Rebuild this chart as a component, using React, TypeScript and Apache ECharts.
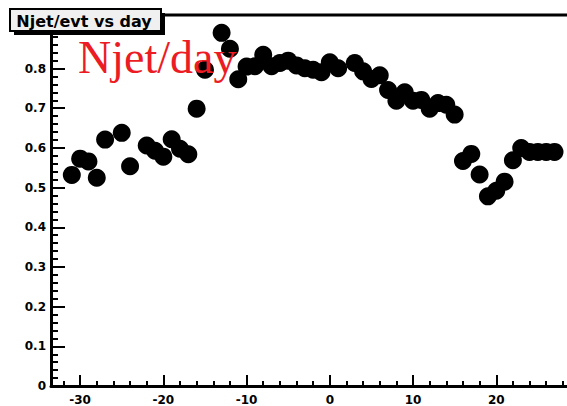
import React, { useEffect, useRef } from "react";
import * as echarts from "echarts";

const days = [
  -31, -30, -29, -28, -27, -25, -24, -22, -21, -20, -19, -18, -17, -16, -15,
  -13, -12, -11, -10, -9, -8, -7, -6, -5, -4, -3, -2, -1, 0, 1, 3, 4, 5, 6, 7,
  8, 9, 10, 11, 12, 13, 14, 15, 16, 17, 18, 19, 20, 21, 22, 23, 24, 25, 26, 27,
];
const njetPerEvt = [
  0.532, 0.573, 0.566, 0.525, 0.621, 0.638, 0.554, 0.606, 0.593, 0.578, 0.622,
  0.598, 0.584, 0.699, 0.797, 0.89, 0.85, 0.773, 0.805, 0.806, 0.835, 0.806,
  0.814, 0.82, 0.808, 0.801, 0.797, 0.791, 0.816, 0.801, 0.814, 0.793, 0.774,
  0.783, 0.746, 0.719, 0.74, 0.719, 0.721, 0.699, 0.713, 0.709, 0.684, 0.567,
  0.585, 0.533, 0.478, 0.492, 0.515, 0.569, 0.6, 0.59, 0.59, 0.59, 0.59,
];

const xMajorTicks = [-30, -20, -10, 0, 10, 20];
const xMinorTicks = [
  -32, -28, -26, -24, -22, -18, -16, -14, -12, -8, -6, -4, -2, 2, 4, 6, 8, 12,
  14, 16, 18, 22, 24, 26, 28,
];
const yMajorTicks = [0, 0.1, 0.2, 0.3, 0.4, 0.5, 0.6, 0.7, 0.8, 0.9];
// the 0.9 label sits under the title box in the reference, so only these are labelled
const yTickLabels = [0, 0.1, 0.2, 0.3, 0.4, 0.5, 0.6, 0.7, 0.8];
const yMinorTicks = [
  0.02, 0.04, 0.06, 0.08, 0.12, 0.14, 0.16, 0.18, 0.22, 0.24, 0.26, 0.28, 0.32,
  0.34, 0.36, 0.38, 0.42, 0.44, 0.46, 0.48, 0.52, 0.54, 0.56, 0.58, 0.62, 0.64,
  0.66, 0.68, 0.72, 0.74, 0.76, 0.78, 0.82, 0.84, 0.86, 0.88, 0.92,
];

const X_MIN = -33.5;
const X_MAX = 28.5;
const Y_MIN = 0;
const Y_MAX = 0.935;

const titleText = "Njet/evt vs day";
const overlayText = "Njet/day";

export default function App() {
  const ref = useRef<HTMLDivElement>(null);

  useEffect(() => {
    if (!ref.current) return;
    const chart = echarts.init(ref.current, null, { renderer: "svg" });
    const labelFont = {
      fontFamily: "DejaVu Sans",
      fontWeight: "bold" as const,
      fontSize: 12,
      color: "#000",
    };
    const grid = { left: 51, right: 0, top: 15, bottom: 13 };
    chart.setOption({
      animation: false,
      grid,
      xAxis: [
        {
          type: "value",
          min: X_MIN,
          max: X_MAX,
          position: "bottom",
          splitLine: { show: false },
          axisLine: { show: true, onZero: false, lineStyle: { color: "#000", width: 3 } },
          axisTick: {
            show: true,
            inside: true,
            length: 11,
            customValues: xMajorTicks,
            lineStyle: { color: "#000", width: 2 },
          },
          axisLabel: { ...labelFont, margin: 8, customValues: xMajorTicks },
        },
        {
          type: "value",
          min: X_MIN,
          max: X_MAX,
          position: "bottom",
          offset: 0,
          splitLine: { show: false },
          axisLine: { show: false, onZero: false },
          axisTick: {
            show: true,
            inside: true,
            length: 5,
            customValues: xMinorTicks,
            lineStyle: { color: "#000", width: 2 },
          },
          axisLabel: { show: false },
        },
      ],
      yAxis: [
        {
          type: "value",
          min: Y_MIN,
          max: Y_MAX,
          position: "left",
          splitLine: { show: false },
          axisLine: { show: true, onZero: false, lineStyle: { color: "#000", width: 3 } },
          axisTick: {
            show: true,
            inside: true,
            length: 14,
            customValues: yMajorTicks,
            lineStyle: { color: "#000", width: 2 },
          },
          axisLabel: { ...labelFont, margin: 5, customValues: yTickLabels },
        },
        {
          type: "value",
          min: Y_MIN,
          max: Y_MAX,
          position: "left",
          offset: 0,
          splitLine: { show: false },
          axisLine: { show: false, onZero: false },
          axisTick: {
            show: true,
            inside: true,
            length: 7,
            customValues: yMinorTicks,
            lineStyle: { color: "#000", width: 2 },
          },
          axisLabel: { show: false },
        },
      ],
      series: [
        {
          type: "scatter",
          xAxisIndex: 0,
          yAxisIndex: 0,
          symbol: "circle",
          symbolSize: 18,
          itemStyle: { color: "#000", opacity: 1 },
          data: days.map((d, i) => [d, njetPerEvt[i]]),
          z: 3,
        },
      ],
      graphic: [
        {
          type: "line",
          z: 50,
          shape: { x1: 51, y1: 15, x2: 567, y2: 15 },
          style: { stroke: "#000", lineWidth: 3 },
        },
        {
          type: "text",
          z: 60,
          x: 78,
          y: 57,
          style: {
            text: overlayText,
            font: '46px "Liberation Serif"',
            fill: "#ec1c24",
            align: "left",
            verticalAlign: "middle",
          },
        },
        {
          type: "rect",
          z: 70,
          shape: { x: 14, y: 13, width: 151, height: 22 },
          style: { fill: "#000" },
        },
        {
          type: "rect",
          z: 71,
          shape: { x: 10, y: 9, width: 151, height: 22 },
          style: { fill: "#f0f0f0", stroke: "#000", lineWidth: 2 },
        },
        {
          type: "text",
          z: 72,
          x: 84,
          y: 21,
          style: {
            text: titleText,
            font: 'bold 16px "DejaVu Sans"',
            fill: "#000",
            align: "center",
            verticalAlign: "middle",
          },
        },
      ],
    });
    return () => chart.dispose();
  }, []);

  return (
    <div
      ref={ref}
      style={{
        position: "fixed",
        left: 0,
        top: 0,
        width: 567,
        height: 406,
        background: "#fff",
      }}
    />
  );
}
